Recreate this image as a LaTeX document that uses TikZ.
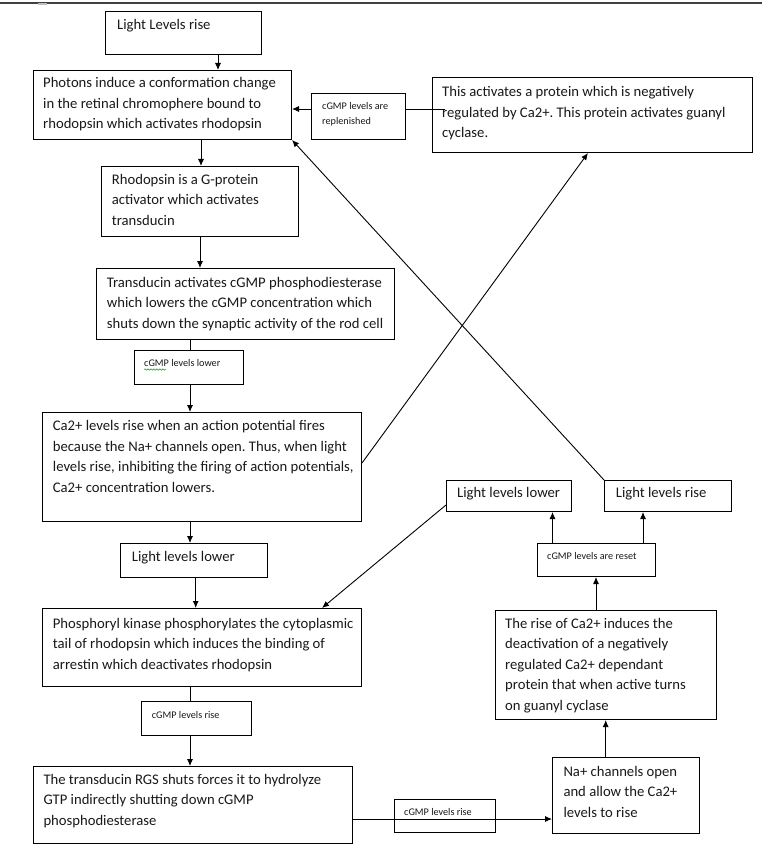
\documentclass[tikz,border=0pt]{standalone}
\usepackage{fontspec}
\setmainfont{Carlito}
\usetikzlibrary{arrows.meta,decorations.pathmorphing}
\newcommand\mainsz{\fontsize{14.67}{20.5}\selectfont\frenchspacing}
\newcommand\smallsz{\fontsize{10.2}{15.5}\selectfont\frenchspacing}
\begin{document}
\begin{tikzpicture}[x=1pt,y=-1pt,
  box/.style={draw=black,line width=1pt,anchor=north west,inner sep=0pt},
  txt/.style={anchor=base west,inner sep=0pt,align=flush left,text width=400pt,
    font=\mainsz,text=black!90},
  stxt/.style={anchor=base west,inner sep=0pt,align=flush left,text width=200pt,
    font=\smallsz,text=black!90},
  link/.style={draw=black,line width=0.9pt},
  arr/.style={link,-{Latex[length=7pt,width=6pt]}}]
\useasboundingbox (0,0) rectangle (762,861);
\fill[white] (0,0) rectangle (762,861);
% top edge strip
\draw[line width=2pt,black!75] (0,3) -- (762,3);
\draw[line width=2pt,black!25] (38,4) -- (47,4);

% boxes
\node[box,minimum width=156pt,minimum height=43pt] (llr) at (105,11) {};
\node[box,minimum width=258pt,minimum height=69pt] (pho) at (33,70) {};
\node[box,minimum width=94pt,minimum height=46pt] (rep) at (311,93) {};
\node[box,minimum width=320pt,minimum height=75pt] (act) at (432,77) {};
\node[box,minimum width=197pt,minimum height=70pt] (rho) at (101,166) {};
\node[box,minimum width=298pt,minimum height=71pt] (tra) at (96,268) {};
\node[box,minimum width=109pt,minimum height=34pt] (low) at (134,350) {};
\node[box,minimum width=319pt,minimum height=109pt] (ca) at (42,412) {};
\node[box,minimum width=147pt,minimum height=34pt] (lll) at (120,543) {};
\node[box,minimum width=319pt,minimum height=78pt] (pk) at (42,608) {};
\node[box,minimum width=110pt,minimum height=34pt] (risea) at (141,701) {};
\node[box,minimum width=319pt,minimum height=77pt] (rgs) at (33,766) {};
\node[box,minimum width=101pt,minimum height=33pt] (riseb) at (394,799) {};
\node[box,minimum width=147pt,minimum height=76pt] (na) at (552,757) {};
\node[box,minimum width=221pt,minimum height=109pt] (rca) at (495,610) {};
\node[box,minimum width=118pt,minimum height=33pt] (res) at (537,543) {};
\node[box,minimum width=125pt,minimum height=31pt] (lllr) at (446,480) {};
\node[box,minimum width=127pt,minimum height=31pt] (llrr) at (604,480) {};

% texts
\node[txt] (llr-t) at (117,30) {Light Levels rise};
\node[txt] (pho-t) at (43,88) {Photons induce a conformation change\\in the retinal chromophere bound to\\rhodopsin which activates rhodopsin};
\node[stxt] (rep-t) at (322,109.5) {cGMP levels are\\replenished};
\node[txt] (act-t) at (442,97) {This activates a protein which is negatively\\regulated by Ca2+. This protein activates guanyl\\cyclase.};
\node[txt] (rho-t) at (111.7,184.5) {Rhodopsin is a G-protein\\activator which activates\\transducin};
\node[txt] (tra-t) at (106.7,287) {Transducin activates cGMP phosphodiesterase\\which lowers the cGMP concentration which\\shuts down the synaptic activity of the rod cell};
\node[stxt] (low-t) at (144,366) {cGMP levels lower};
\node[txt] (ca-t) at (52.7,430.5) {Ca2+ levels rise when an action potential fires\\because the Na+ channels open. Thus, when light\\levels rise, inhibiting the firing of action potentials,\\Ca2+ concentration lowers.};
\node[txt] (lll-t) at (131.7,561.5) {Light levels lower};
\node[txt] (pk-t) at (52.7,628) {Phosphoryl kinase phosphorylates the cytoplasmic\\tail of rhodopsin which induces the binding of\\arrestin which deactivates rhodopsin};
\node[stxt] (risea-t) at (151.7,718) {cGMP levels rise};
\node[txt] (rgs-t) at (43.3,784) {The transducin RGS shuts forces it to hydrolyze\\GTP indirectly shutting down cGMP\\phosphodiesterase};
\node[stxt] (riseb-t) at (404,815.5) {cGMP levels rise};
\node[txt] (na-t) at (563.3,776) {Na+ channels open\\and allow the Ca2+\\levels to rise};
\node[txt] (rca-t) at (505,628) {The rise of Ca2+ induces the\\deactivation of a negatively\\regulated Ca2+ dependant\\protein that when active turns\\on guanyl cyclase};
\node[stxt] (res-t) at (547,559.5) {cGMP levels are reset};
\node[txt] (lllr-t) at (457,497) {Light levels lower};
\node[txt] (llrr-t) at (615.7,497) {Light levels rise};

% spell-check squiggle
\draw[green!60!black,line width=0.5pt,decorate,decoration={snake,amplitude=0.7pt,segment length=3pt}] (144,369.5) -- (166,369.5);

% helper coordinates
\coordinate (v218) at (218,0);
\coordinate (v201) at (201,0);
\coordinate (v200) at (200,0);
\coordinate (v190) at (190,0);
\coordinate (v196) at (195.7,0);
\coordinate (v606) at (605.7,0);
\coordinate (v596) at (596,0);
\coordinate (v553) at (552.5,0);
\coordinate (v643) at (643,0);
\coordinate (v588) at (588,0);
\coordinate (v322) at (322,0);
\coordinate (h819) at (0,819);
\coordinate (h463) at (0,463);
\coordinate (h505) at (0,505);
\coordinate (h109) at (0,109);
\coordinate (actin) at (445,109);

% connectors
\draw[arr] (v218 |- llr.south) -- (v218 |- pho.north);
\draw[arr] (v201 |- pho.south) -- (v201 |- rho.north);
\draw[arr] (v200 |- rho.south) -- (v200 |- tra.north);
\draw[link] (v190 |- tra.south) -- (v190 |- low.north);
\draw[arr] (v190 |- low.south) -- (v190 |- ca.north);
\draw[arr] (v190 |- ca.south) -- (v190 |- lll.north);
\draw[arr] (v196 |- lll.south) -- (v196 |- pk.north);
\draw[link] (v190 |- pk.south) -- (v190 |- risea.north);
\draw[arr] (v190 |- risea.south) -- (v190 |- rgs.north);
\draw[arr] (rgs.east |- h819) -- (na.west |- h819);
\draw[arr] (v606 |- na.north) -- (v606 |- rca.south);
\draw[arr] (v596 |- rca.north) -- (v596 |- res.south);
\draw[arr] (v553 |- res.north) -- (v553 |- lllr.south);
\draw[arr] (v643 |- res.north) -- (v643 |- llrr.south);
\draw[arr] (llrr.north west) -- (pho.south east);
\draw[arr] (ca.east |- h463) -- (v588 |- act.south);
\draw[arr] (lllr.west |- h505) -- (v322 |- pk.north);
\draw[link] (actin) -- (rep.east |- actin);
\draw[arr] (rep.west |- h109) -- (pho.east |- h109);
\end{tikzpicture}
\end{document}
